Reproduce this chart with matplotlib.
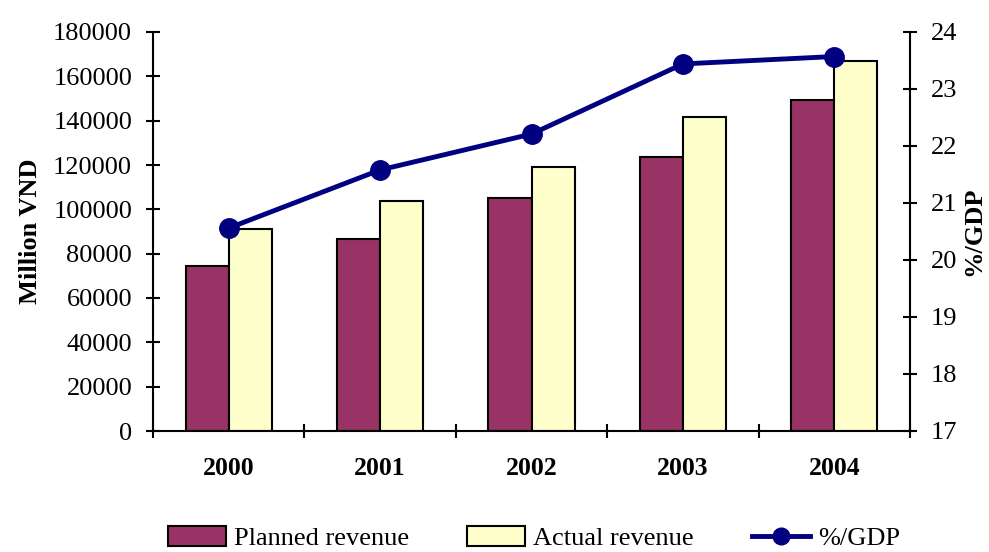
import matplotlib
matplotlib.use("Agg")
import matplotlib.pyplot as plt
import numpy as np
from matplotlib.patches import Patch
from matplotlib.lines import Line2D

years = ["2000", "2001", "2002", "2003", "2004"]
planned = [74400, 86600, 105100, 123600, 149300]
actual = [91100, 103800, 119100, 141700, 166900]
gdp_pct = [20.56, 21.58, 22.21, 23.44, 23.57]

plt.rcParams['font.family'] = ['Liberation Serif', 'DejaVu Serif']

fig = plt.figure(figsize=(9.89, 5.52), dpi=100)
ax = fig.add_axes([153/989, 1-431/552, (910-153)/989, (431-32)/552])
ax2 = ax.twinx()

x = np.arange(len(years))
w = 0.285
ax.bar(x - w/2, planned, w, color="#993366", edgecolor="black", linewidth=1.5, zorder=2)
ax.bar(x + w/2, actual, w, color="#FFFFCC", edgecolor="black", linewidth=1.5, zorder=2)

ax.set_ylim(0, 180000)
ax.set_yticks(np.arange(0, 180001, 20000))
ax.set_xlim(-0.5, len(years) - 0.5)
ax.set_xticks(np.arange(-0.5, len(years), 1.0))
ax.set_xticklabels([])
ax.set_xticks(x, minor=True)
ax.set_xticklabels(years, minor=True, fontsize=18.5, fontweight="bold")
ax.tick_params(axis="x", which="minor", length=0, pad=19)
ax.tick_params(axis="x", which="major", direction="inout", length=10, width=1.5)
ax.tick_params(axis="y", direction="inout", length=10, width=1.5, labelsize=19, pad=10)
ax.set_ylabel("Million VND", fontsize=19, fontweight="bold", labelpad=8)

ax2.plot(x, gdp_pct, color="#000080", linewidth=3.5, marker="o", markersize=14, zorder=3)
ax2.set_ylim(17, 24)
ax2.set_yticks(np.arange(17, 25, 1))
ax2.tick_params(axis="y", direction="inout", length=10, width=1.5, labelsize=19, pad=10)
fig.text(974/989, 1 - 231/552, "%/GDP", fontsize=19, fontweight="bold",
         rotation=90, ha="center", va="center")

for a in (ax, ax2):
    a.spines["top"].set_visible(False)
    for s in ("left", "right", "bottom"):
        a.spines[s].set_linewidth(1.5)
ax.spines["right"].set_visible(False)
ax2.spines["left"].set_visible(False)
ax2.spines["bottom"].set_visible(False)

handles = [
    Patch(facecolor="#993366", edgecolor="black", linewidth=1.5),
    Patch(facecolor="#FFFFCC", edgecolor="black", linewidth=1.5),
    Line2D([0], [0], color="#000080", linewidth=3.5, marker="o", markersize=12),
]
labels = ["Planned revenue", "Actual revenue", "%/GDP"]
fig.legend(handles, labels, loc="center", bbox_to_anchor=(0.54, 1-538/552), ncol=3,
           frameon=False, fontsize=19, handlelength=2.2, handleheight=0.8,
           handletextpad=0.3, columnspacing=2.2)

fig.savefig("out.png", dpi=100)
